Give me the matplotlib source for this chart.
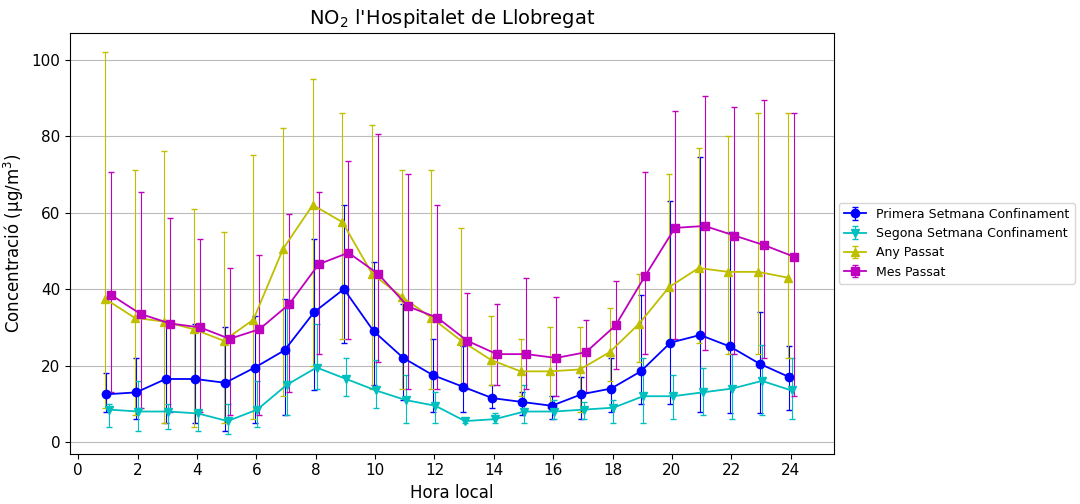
import numpy as np
import matplotlib
matplotlib.use("Agg")
import matplotlib.pyplot as plt

hours = np.arange(1, 25)

# Primera Setmana Confinament
primera = [12.5, 13, 16.5, 16.5, 15.5, 19.5, 24, 34, 40, 29, 22, 17.5, 14.5, 11.5, 10.5, 9.5, 12.5, 14, 18.5, 26, 28, 25, 20.5, 17]
primera_hi = [18, 22, 31, 31, 30, 33, 37.5, 53, 62, 47, 36, 27, 25, 15, 13, 12, 17, 22, 38.5, 63, 74.5, 55, 34, 25]
primera_lo = [8, 6, 5, 5, 3, 5, 7, 13.5, 26, 15, 11, 8, 8, 9, 7, 6, 6, 8, 10, 10, 8, 7.5, 7.5, 8.5]

# Segona Setmana Confinament
segona = [8.5, 8, 8, 7.5, 5.5, 8.5, 15, 19.5, 16.5, 13.5, 11, 9.5, 5.5, 6, 8, 8, 8.5, 9, 12, 12, 13, 14, 16, 13.5]
segona_hi = [10, 16, 10, 8, 10, 16, 35, 31, 22, 21.5, 17.5, 13, 6, 7.5, 15, 11, 10.5, 11, 22, 17.5, 19.5, 23, 25.5, 22]
segona_lo = [4, 3, 3.5, 3, 2, 4, 7, 14, 12, 9, 5, 5, 5, 5, 5, 6, 6, 5, 5, 6, 7, 6, 7, 6]

# Any Passat
any_p = [37.5, 32.5, 31.5, 29.5, 26.5, 32, 50.5, 62, 57.5, 44, 38, 32.5, 26.5, 21.5, 18.5, 18.5, 19, 23.5, 31, 40.5, 45.5, 44.5, 44.5, 43]
any_hi = [102, 71, 76, 61, 55, 75, 82, 95, 86, 83, 71, 71, 56, 33, 27, 30, 30, 35, 44, 70, 77, 80, 86, 86]
any_lo = [9, 7, 5, 4, 5, 6, 12, 20, 27, 14, 14, 14, 14, 15, 12, 9, 8, 16, 21, 26, 26, 23, 23, 22]

# Mes Passat
mes = [38.5, 33.5, 31, 30, 27, 29.5, 36, 46.5, 49.5, 44, 35.5, 32.5, 26.5, 23, 23, 22, 23.5, 30.5, 43.5, 56, 56.5, 54, 51.5, 48.5]
mes_hi = [70.5, 65.5, 58.5, 53, 45.5, 49, 59.5, 65.5, 73.5, 80.5, 70, 62, 39, 36, 43, 38, 32, 42, 70.5, 86.5, 90.5, 87.5, 89.5, 86]
mes_lo = [13, 9, 8, 8, 7, 7, 13, 23, 27, 21, 14, 14, 14, 15, 14, 12, 13, 19, 23, 27, 24, 23, 22, 12]

series = [
    ("Primera Setmana Confinament", primera, primera_lo, primera_hi, "b", "o", -0.05),
    ("Segona Setmana Confinament", segona, segona_lo, segona_hi, "c", "v", 0.03),
    ("Any Passat", any_p, any_lo, any_hi, "y", "^", -0.1),
    ("Mes Passat", mes, mes_lo, mes_hi, "m", "s", 0.1),
]

fig, ax = plt.subplots(figsize=(10.8, 5.04), dpi=100)
for name, vals, lo, hi, col, mk, off in series:
    vals = np.array(vals)
    err = [vals - np.array(lo), np.array(hi) - vals]
    ax.errorbar(hours + off, vals, yerr=err, color=col, marker=mk, markersize=6,
                capsize=2, elinewidth=0.8, lw=1.3, label=name)

ax.set_title("NO$_2$ l'Hospitalet de Llobregat", fontsize=14)
ax.set_xlabel("Hora local", fontsize=12)
ax.set_ylabel("Concentració (µg/m$^3$)", fontsize=12)
ax.set_xticks(range(0, 25, 2))
ax.set_xlim(-0.27, 25.45)
ax.set_ylim(-3, 107)
ax.tick_params(labelsize=11)
ax.yaxis.grid(True, color="#bbbbbb")
ax.set_axisbelow(True)
ax.legend(loc="center left", bbox_to_anchor=(1.0, 0.5), fontsize=9,
          handlelength=1.8, borderaxespad=0.4)
plt.subplots_adjust(left=0.065, right=0.772, top=0.935, bottom=0.1)
plt.savefig("out.png")
